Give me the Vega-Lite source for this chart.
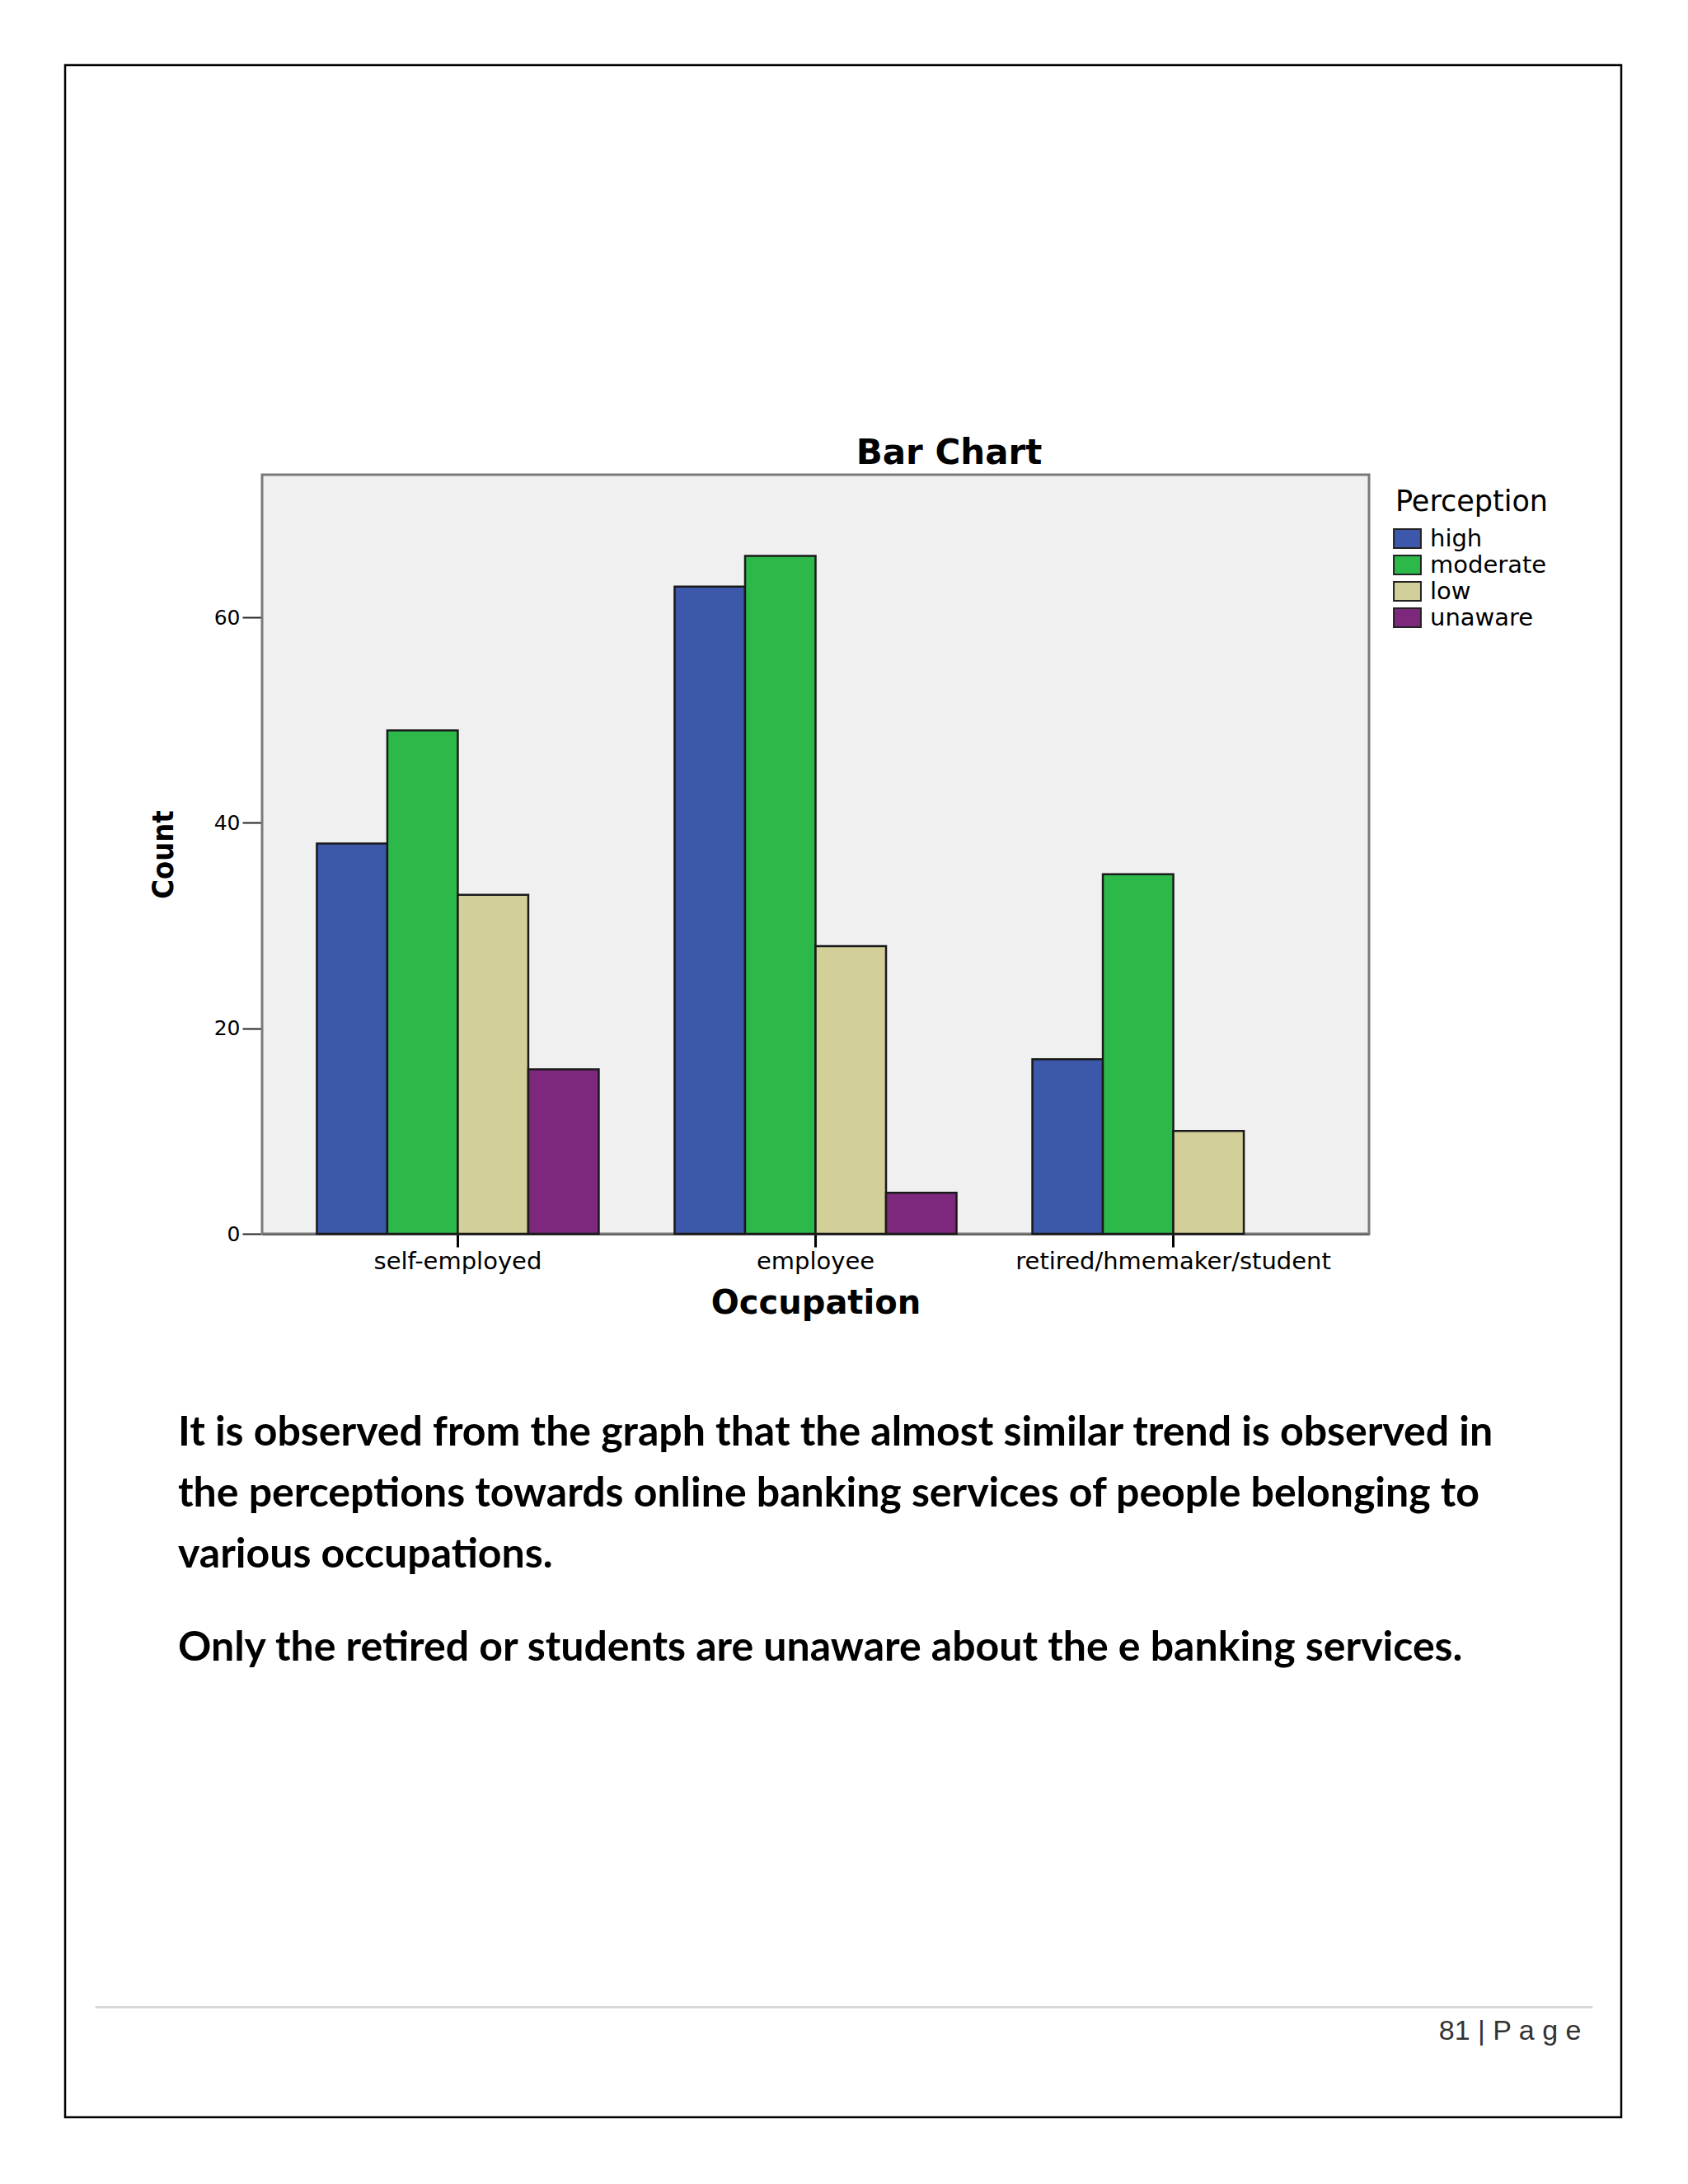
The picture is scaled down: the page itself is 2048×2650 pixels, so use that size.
{
  "$schema": "https://vega.github.io/schema/vega-lite/v6.json",
  "width": 1888,
  "height": 2490,
  "autosize": "none",
  "padding": {"left": 79, "top": 79, "right": 81, "bottom": 81},
  "background": "white",
  "title": {
    "text": [
      "It is observed from the graph that the almost similar trend is observed in",
      "the perceptions towards online banking services of people belonging to",
      "various occupations."
    ],
    "subtitle": "Only the retired or students are unaware about the e banking services.",
    "orient": "bottom",
    "anchor": "start",
    "frame": "group",
    "align": "left",
    "dx": 137,
    "offset": -855,
    "font": "Lato",
    "fontSize": 50,
    "fontWeight": "bold",
    "lineHeight": 74,
    "color": "#000000",
    "subtitleFont": "Lato",
    "subtitleFontSize": 50,
    "subtitleFontWeight": "bold",
    "subtitleColor": "#000000",
    "subtitleLineHeight": 74,
    "subtitlePadding": 63
  },
  "resolve": {
    "scale": {"x": "independent", "y": "independent"},
    "axis": {"x": "independent", "y": "independent"}
  },
  "layer": [
    {
      "data": {"values": [{"lo": 0, "hi": 1}]},
      "mark": {"type": "rect", "fill": "#f0f0f0", "stroke": "#7a7a7a", "strokeWidth": 3},
      "encoding": {
        "x": {
          "field": "lo", "type": "quantitative",
          "scale": {"domain": [0, 1], "range": [239, 1582], "nice": false, "zero": false},
          "axis": {
            "orient": "top", "offset": -497, "domain": false, "ticks": false, "labels": false, "grid": false,
            "title": "Bar Chart", "titleX": 1072, "titlePadding": 5,
            "titleFont": "DejaVu Sans", "titleFontSize": 42, "titleFontWeight": "bold", "titleColor": "#000000"
          }
        },
        "x2": {"field": "hi"},
        "y": {
          "field": "lo", "type": "quantitative",
          "scale": {"domain": [0, 1], "range": [1418, 497], "nice": false, "zero": false},
          "axis": null
        },
        "y2": {"field": "hi"}
      }
    },
    {
      "data": {
        "values": [
          {"Occupation": "self-employed", "Perception": "high", "Count": 38},
          {"Occupation": "self-employed", "Perception": "moderate", "Count": 49},
          {"Occupation": "self-employed", "Perception": "low", "Count": 33},
          {"Occupation": "self-employed", "Perception": "unaware", "Count": 16},
          {"Occupation": "employee", "Perception": "high", "Count": 63},
          {"Occupation": "employee", "Perception": "moderate", "Count": 66},
          {"Occupation": "employee", "Perception": "low", "Count": 28},
          {"Occupation": "employee", "Perception": "unaware", "Count": 4},
          {"Occupation": "retired/hmemaker/student", "Perception": "high", "Count": 17},
          {"Occupation": "retired/hmemaker/student", "Perception": "moderate", "Count": 35},
          {"Occupation": "retired/hmemaker/student", "Perception": "low", "Count": 10}
        ]
      },
      "mark": {"type": "bar", "stroke": "#1a1a1a", "strokeWidth": 2.5},
      "encoding": {
        "x": {
          "field": "Occupation", "type": "nominal",
          "sort": ["self-employed", "employee", "retired/hmemaker/student"],
          "scale": {"range": [239, 1582], "paddingInner": 0.212, "paddingOuter": 0.153},
          "axis": {
            "orient": "bottom", "offset": -1072, "labelAngle": 0, "labelLimit": 0,
            "domainColor": "#000000", "domainWidth": 3,
            "tickColor": "#000000", "tickWidth": 3, "tickSize": 16,
            "labelFont": "DejaVu Sans", "labelFontSize": 29, "labelColor": "#000000", "labelPadding": 3,
            "title": "Occupation", "titleFont": "DejaVu Sans", "titleFontSize": 40, "titleFontWeight": "bold",
            "titleColor": "#000000", "titlePadding": 16
          }
        },
        "xOffset": {
          "field": "Perception", "type": "nominal",
          "sort": ["high", "moderate", "low", "unaware"],
          "scale": {"paddingInner": 0, "paddingOuter": 0}
        },
        "y": {
          "field": "Count", "type": "quantitative",
          "scale": {"domain": [0, 73.9], "range": [1418, 497], "nice": false},
          "axis": {
            "orient": "left", "offset": -239, "values": [0, 20, 40, 60], "grid": false,
            "domainColor": "#000000", "domainWidth": 3,
            "tickColor": "#222222", "tickWidth": 2, "tickSize": 24,
            "labelFont": "DejaVu Sans", "labelFontSize": 25, "labelColor": "#000000", "labelPadding": 3,
            "title": "Count", "titleFont": "Liberation Sans Narrow, DejaVu Sans Condensed, Liberation Sans",
            "titleFontSize": 36, "titleFontWeight": "bold", "titleColor": "#000000", "titlePadding": 42
          }
        },
        "color": {
          "field": "Perception", "type": "nominal",
          "scale": {
            "domain": ["high", "moderate", "low", "unaware"],
            "range": ["#3d57ab", "#2db84a", "#d3cf98", "#7d287c"]
          },
          "legend": {
            "orient": "none", "legendX": 1614, "legendY": 513,
            "title": "Perception", "titleFont": "DejaVu Sans", "titleFontSize": 35, "titleFontWeight": "normal",
            "titleColor": "#000000", "titlePadding": 12, "titleLimit": 500,
            "labelFont": "DejaVu Sans", "labelFontSize": 29, "labelColor": "#000000", "labelOffset": 13,
            "symbolType": "M-1.43,-1H1.43V1H-1.43Z", "symbolSize": 529,
            "symbolStrokeColor": "#222222", "symbolStrokeWidth": 2, "symbolOpacity": 1,
            "rowPadding": 1
          }
        }
      }
    },
    {
      "data": {"values": [{"lo": 0, "hi": 1}]},
      "mark": {"type": "rule", "opacity": 0},
      "encoding": {
        "x": {
          "field": "lo", "type": "quantitative",
          "scale": {"domain": [0, 1], "range": [36, 1853], "nice": false, "zero": false},
          "axis": {
            "orient": "bottom", "offset": -134, "ticks": false, "labels": false, "grid": false,
            "domainColor": "#d9d9d9", "domainWidth": 3,
            "title": "81 | P a g e", "titleX": 1839, "titleAlign": "right",
            "titleFont": "Liberation Sans Narrow, Liberation Sans", "titleFontSize": 34, "titleFontWeight": "normal",
            "titleColor": "#333333", "titlePadding": 12
          }
        },
        "x2": {"field": "hi"}
      }
    }
  ],
  "config": {
    "view": {"stroke": "#000000", "strokeWidth": 2.5, "fill": "white"}
  }
}
